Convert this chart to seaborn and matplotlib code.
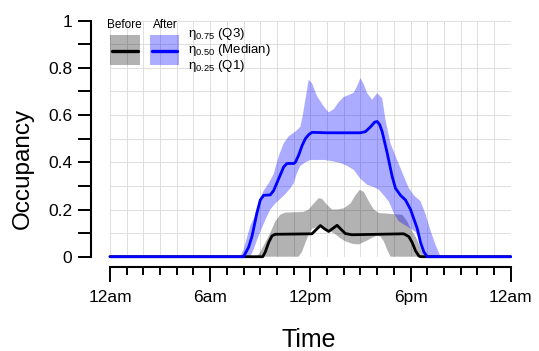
import numpy as np
import matplotlib
matplotlib.use("Agg")
import matplotlib.pyplot as plt
from matplotlib.patches import Rectangle
from matplotlib.lines import Line2D
from matplotlib.ticker import MultipleLocator
import seaborn as sns

# ---- occupancy profiles over the day (hour of day, fraction occupied) ----
# Before: median
before_med_h = [0, 9.15, 9.3, 9.5, 9.7, 9.9, 12.1, 12.35, 12.6, 12.85, 13.1, 13.35, 13.6,
                13.85, 14.1, 14.5, 17.6, 17.9, 18.1, 18.3, 18.5, 18.6, 24]
before_med = [0, 0, 0.02, 0.06, 0.088, 0.095, 0.097, 0.115, 0.132, 0.118, 0.107, 0.12, 0.133,
              0.115, 0.098, 0.093, 0.097, 0.085, 0.06, 0.025, 0.003, 0, 0]
# Before: upper quartile
before_q3_h = [0, 8.8, 9.0, 9.3, 9.6, 9.9, 10.2, 10.5, 11.0, 11.6, 11.9, 12.2, 12.5, 12.7, 13.0,
               13.3, 13.6, 14.0, 14.4, 14.7, 14.95, 15.2, 15.5, 15.8, 16.1, 16.5, 17.0, 17.5,
               17.8, 18.0, 18.3, 18.6, 18.9, 24]
before_q3 = [0, 0, 0.02, 0.06, 0.10, 0.15, 0.178, 0.187, 0.188, 0.19, 0.2, 0.225, 0.248, 0.245,
             0.22, 0.2, 0.2, 0.205, 0.225, 0.26, 0.283, 0.275, 0.235, 0.2, 0.185, 0.183, 0.18,
             0.178, 0.15, 0.12, 0.085, 0.04, 0, 0]
# Before: lower quartile
before_q1_h = [0, 11.3, 11.5, 11.7, 11.9, 12.1, 12.5, 12.8, 13.1, 13.5, 13.8, 14.1, 14.5, 14.9,
               15.3, 15.7, 16.0, 16.2, 16.4, 16.6, 16.8, 24]
before_q1 = [0, 0, 0.02, 0.058, 0.093, 0.118, 0.128, 0.122, 0.112, 0.095, 0.078, 0.065, 0.055,
             0.052, 0.065, 0.08, 0.09, 0.085, 0.065, 0.03, 0, 0]

# After: median
after_med_h = [0, 8.0, 8.3, 8.5, 8.8, 9.0, 9.2, 9.6, 9.8, 10.1, 10.4, 10.6, 11.0, 11.1, 11.3,
               11.5, 11.7, 11.9, 12.1, 13.0, 14.0, 15.0, 15.3, 15.6, 15.85, 16.0, 16.15, 16.3,
               16.6, 16.9, 17.1, 17.4, 17.7, 18.0, 18.2, 18.4, 18.6, 18.8, 19.0, 24]
after_med = [0, 0, 0.04, 0.085, 0.185, 0.24, 0.26, 0.262, 0.28, 0.33, 0.38, 0.395, 0.395, 0.40,
             0.43, 0.47, 0.50, 0.517, 0.527, 0.525, 0.525, 0.525, 0.53, 0.55, 0.57, 0.573, 0.56,
             0.53, 0.44, 0.34, 0.29, 0.26, 0.24, 0.2, 0.16, 0.12, 0.06, 0.02, 0, 0]
# After: upper quartile
after_q3_h = [0, 7.8, 8.0, 8.2, 8.4, 8.6, 8.9, 9.2, 9.5, 9.8, 10.1, 10.4, 10.7, 11.1, 11.4,
              11.55, 11.7, 11.9, 12.1, 12.4, 12.8, 13.1, 13.4, 13.7, 14.0, 14.3, 14.6, 14.85,
              15.0, 15.2, 15.4, 15.7, 16.0, 16.3, 16.5, 16.8, 17.2, 17.6, 17.9, 18.2, 18.6,
              18.9, 19.2, 19.5, 19.8, 24]
after_q3 = [0, 0, 0.03, 0.08, 0.13, 0.16, 0.23, 0.28, 0.31, 0.35, 0.425, 0.48, 0.51, 0.53, 0.55,
            0.6, 0.665, 0.75, 0.735, 0.68, 0.637, 0.612, 0.625, 0.655, 0.677, 0.685, 0.695, 0.73,
            0.757, 0.73, 0.693, 0.665, 0.693, 0.672, 0.58, 0.48, 0.41, 0.34, 0.29, 0.26, 0.235,
            0.18, 0.11, 0.05, 0, 0]
# After: lower quartile
after_q1_h = [0, 8.4, 8.6, 8.8, 9.0, 9.3, 9.6, 9.9, 10.2, 10.5, 10.8, 11.0, 11.2, 11.4, 11.7,
              12.0, 12.8, 13.3, 13.8, 14.2, 14.6, 15.0, 15.4, 15.8, 16.1, 16.4, 16.7, 17.0,
              17.3, 17.8, 18.3, 18.6, 18.8, 19.0, 24]
after_q1 = [0, 0, 0.03, 0.07, 0.105, 0.155, 0.2, 0.225, 0.245, 0.265, 0.29, 0.31, 0.355, 0.385,
            0.40, 0.41, 0.41, 0.405, 0.397, 0.385, 0.368, 0.33, 0.305, 0.295, 0.284, 0.26, 0.234,
            0.185, 0.15, 0.128, 0.105, 0.07, 0.03, 0, 0]

hour_ticks = [0, 6, 12, 18, 24]
hour_labels = ["12am", "6am", "12pm", "6pm", "12am"]
occ_ticks = [0, 0.2, 0.4, 0.6, 0.8, 1]
occ_labels = ["0", "0.2", "0.4", "0.6", "0.8", "1"]

sns.set_style("white")
plt.rcParams["font.family"] = ["Liberation Sans", "DejaVu Sans"]
plt.rcParams["mathtext.fontset"] = "custom"
plt.rcParams["mathtext.rm"] = "Liberation Sans"
plt.rcParams["mathtext.it"] = "Liberation Sans"
plt.rcParams["mathtext.bf"] = "Liberation Sans:bold"
plt.rcParams["text.color"] = "black"
plt.rcParams["axes.labelcolor"] = "black"
plt.rcParams["xtick.color"] = "black"
plt.rcParams["ytick.color"] = "black"

W, H = 539, 351
fig = plt.figure(figsize=(W / 100, H / 100), dpi=100)
ax = fig.add_axes([110 / W, 1 - 256.7 / H, (510.7 - 110) / W, (256.7 - 20.7) / H])

GRAY_FILL = (0, 0, 0, 0.30)
BLUE_FILL = (0, 0, 1, 0.33)

# interquartile bands
ax.fill(np.concatenate([before_q3_h, before_q1_h[::-1]]),
        np.concatenate([before_q3, before_q1[::-1]]),
        color=GRAY_FILL, lw=0, zorder=2)
ax.fill(np.concatenate([after_q3_h, after_q1_h[::-1]]),
        np.concatenate([after_q3, after_q1[::-1]]),
        color=BLUE_FILL, lw=0, zorder=3)

# medians
sns.lineplot(x=before_med_h, y=before_med, ax=ax, color="black", lw=2.0,
             estimator=None, zorder=4, clip_on=False)
sns.lineplot(x=after_med_h, y=after_med, ax=ax, color="#0000ff", lw=2.0,
             estimator=None, zorder=5, clip_on=False)

ax.set_xlim(0, 24)
ax.set_ylim(0, 1)

# grid
ax.xaxis.set_minor_locator(MultipleLocator(1))
ax.yaxis.set_minor_locator(MultipleLocator(0.1))
ax.set_xticks(hour_ticks)
ax.set_xticklabels(hour_labels)
ax.set_yticks(occ_ticks)
ax.set_yticklabels(occ_labels)
ax.grid(True, which="both", color="#dedede", lw=0.7, zorder=0)
ax.set_axisbelow(True)

for s in ("top", "right"):
    ax.spines[s].set_visible(False)
ax.spines["left"].set_position(("outward", 13.7))
ax.spines["bottom"].set_position(("outward", 7.4))
for s in ("left", "bottom"):
    ax.spines[s].set_linewidth(1.5)
    ax.spines[s].set_color("black")

ax.tick_params(axis="x", which="major", direction="out", length=10.8, width=1.4,
               labelsize=12.5, pad=6, colors="black", bottom=True)
ax.tick_params(axis="x", which="minor", direction="out", length=5.4, width=1.4, bottom=True)
ax.tick_params(axis="y", which="both", direction="out", length=9.4, width=1.4,
               labelsize=12.5, pad=4, left=True, colors="black")
ax.set_xlabel("")
ax.set_ylabel("")

# axis titles
fig.text(309 / W, 1 - 340 / H, "Time", fontsize=18, ha="center", va="center")
fig.text(23 / W, 1 - 168 / H, "Occupancy", fontsize=17.5, ha="center", va="center",
         rotation=90)


def fx(px):
    return px / W


def fy(py):
    return 1 - py / H


# legend
fig.text(fx(124), fy(25), "Before", fontsize=8.5, ha="center", va="center")
fig.text(fx(165), fy(25), "After", fontsize=8.5, ha="center", va="center")
fig.add_artist(Rectangle((fx(110), fy(65)), fx(30), 30 / H, transform=fig.transFigure,
                         facecolor=GRAY_FILL, lw=0))
fig.add_artist(Rectangle((fx(150), fy(65)), fx(29), 30 / H, transform=fig.transFigure,
                         facecolor=BLUE_FILL, lw=0))
fig.add_artist(Line2D([fx(112), fx(138)], [fy(50.7), fy(50.7)], transform=fig.transFigure,
                      color="black", lw=2.4, solid_capstyle="round"))
fig.add_artist(Line2D([fx(152), fx(177)], [fy(50.7), fy(50.7)], transform=fig.transFigure,
                      color="#0000ff", lw=2.4, solid_capstyle="round"))
for yy, txt in [(34, r"$\eta_{0.75}$ (Q3)"), (50, r"$\eta_{0.50}$ (Median)"),
                (66, r"$\eta_{0.25}$ (Q1)")]:
    fig.text(fx(188), fy(yy), txt, fontsize=9.5, ha="left", va="center")

fig.savefig("out.png", dpi=100)
